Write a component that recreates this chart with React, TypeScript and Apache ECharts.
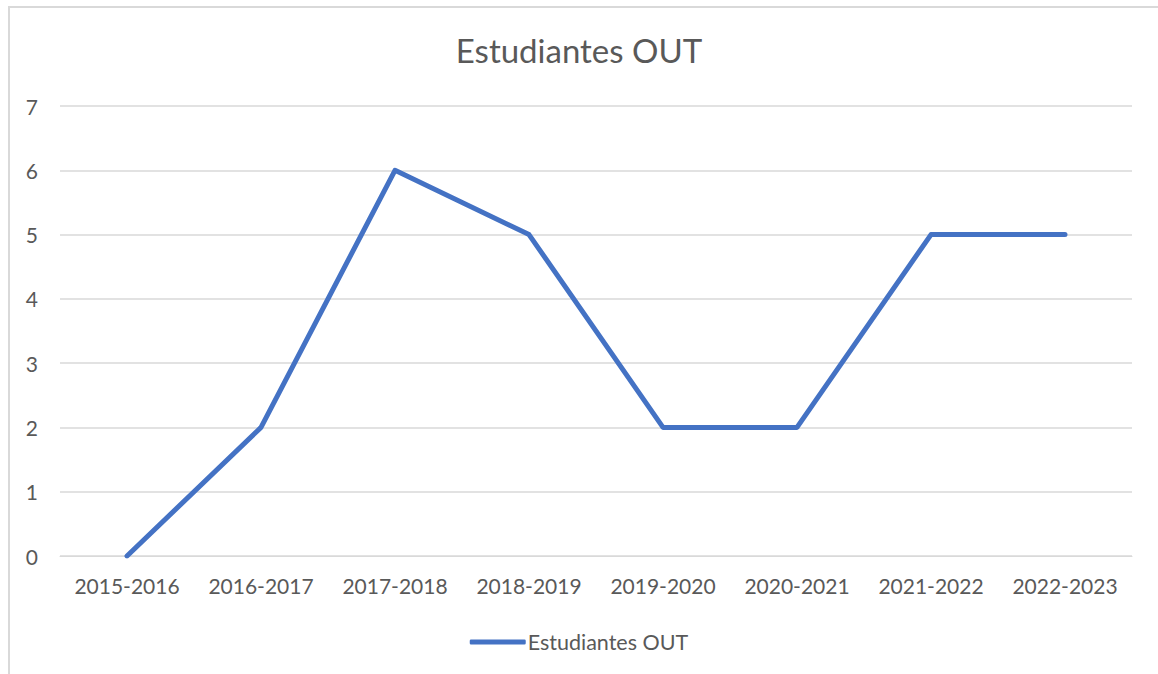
import React, { useEffect, useRef } from "react";
import * as echarts from "echarts";

const categories = ["2015-2016", "2016-2017", "2017-2018", "2018-2019", "2019-2020", "2020-2021", "2021-2022", "2022-2023"];
const values = [0, 2, 6, 5, 2, 2, 5, 5];
const seriesName = "Estudiantes OUT";
const titleText = "Estudiantes OUT";

const FONT = "Lato, 'Noto Sans', sans-serif";

export default function App() {
  const ref = useRef<HTMLDivElement>(null);
  useEffect(() => {
    const chart = echarts.init(ref.current!, null, { renderer: "svg" });
    chart.setOption({
      animation: false,
      backgroundColor: "#ffffff",
      title: {
        text: titleText,
        left: "center",
        top: 28,
        textStyle: { fontFamily: FONT, fontSize: 33, fontWeight: "normal", color: "#595959" },
      },
      graphic: [
        {
          type: "rect",
          shape: { x: 9, y: 7, width: 1200, height: 700 },
          style: { fill: "none", stroke: "#d9d9d9", lineWidth: 2 },
          silent: true,
        },
      ],
      legend: {
        data: [{ name: seriesName, icon: "roundRect" }],
        left: "center",
        top: 626,
        itemWidth: 56,
        itemHeight: 5,
        itemGap: 10,
        textStyle: { fontFamily: FONT, fontSize: 21.5, color: "#595959", padding: [0, 0, 0, -3] },
      },
      grid: { left: 60, right: 26, top: 106, bottom: 118, containLabel: false },
      xAxis: {
        type: "category",
        data: categories,
        boundaryGap: true,
        axisLine: { show: true, lineStyle: { color: "#d9d9d9", width: 1 } },
        axisTick: { show: false },
        axisLabel: { fontFamily: FONT, fontSize: 21, color: "#595959", margin: 19, interval: 0 },
      },
      yAxis: {
        type: "value",
        min: 0,
        max: 7,
        interval: 1,
        axisLine: { show: false },
        axisTick: { show: false },
        splitLine: { lineStyle: { color: "#d9d9d9", width: 1.5 } },
        axisLabel: { fontFamily: FONT, fontSize: 21, color: "#595959", margin: 22 },
      },
      series: [
        {
          name: seriesName,
          type: "line",
          data: values,
          symbol: "none",
          showSymbol: false,
          lineStyle: { color: "#4472C4", width: 5, cap: "round", join: "round" },
          itemStyle: { color: "#4472C4" },
        },
      ],
    });
    return () => chart.dispose();
  }, []);
  return <div ref={ref} style={{ position: "absolute", left: 0, top: 0, width: 1158, height: 674 }} />;
}
